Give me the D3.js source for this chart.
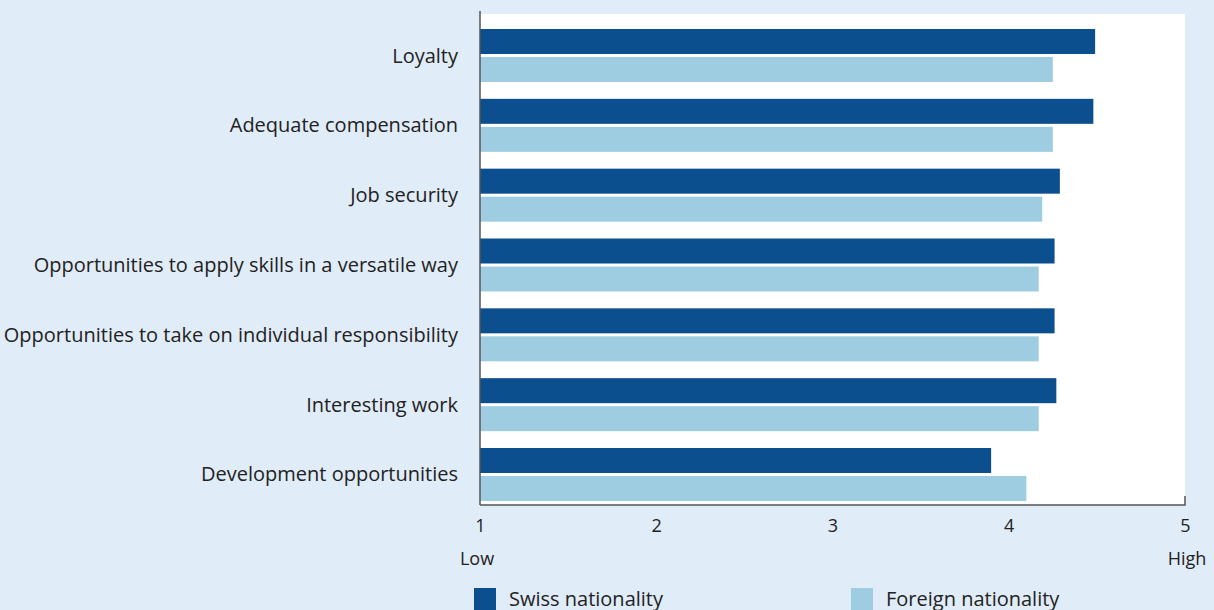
<!DOCTYPE html>
<html>
<head>
<meta charset="utf-8">
<script src="https://cdn.jsdelivr.net/npm/d3@7"></script>
<style>
  html, body { margin: 0; padding: 0; background: #e0ecf8; }
  svg { display: block; }
  text { font-family: "Open Sans", "Noto Sans", sans-serif; fill: #222; }
</style>
</head>
<body>
<svg id="chart" width="1214" height="610"></svg>
<script>
// Job characteristics, rated on a scale from 1 (low) to 5 (high)
const categories = [
  "Loyalty",
  "Adequate compensation",
  "Job security",
  "Opportunities to apply skills in a versatile way",
  "Opportunities to take on individual responsibility",
  "Interesting work",
  "Development opportunities"
];
const swissValues   = [4.49, 4.48, 4.29, 4.26, 4.26, 4.27, 3.90];
const foreignValues = [4.25, 4.25, 4.19, 4.17, 4.17, 4.17, 4.10];
const seriesNames = ["Swiss nationality", "Foreign nationality"];
const tickValues = [1, 2, 3, 4, 5];
const scaleEnds = ["Low", "High"];

const colors = ["#0c4f8f", "#9ecde2"];

const svg = d3.select("#chart");
const plot = { left: 480, right: 1185, top: 14, bottom: 505 };

const x = d3.scaleLinear().domain([1, 5]).range([plot.left, plot.right]);
const y = d3.scaleBand().domain(categories).range([29, 501]).paddingInner(0.241).paddingOuter(0);
const ySub = d3.scaleBand().domain(seriesNames).range([0, y.bandwidth()]).paddingInner(0.107);

// white plotting area
svg.append("rect")
  .attr("x", plot.left).attr("y", plot.top)
  .attr("width", plot.right - plot.left).attr("height", plot.bottom - plot.top)
  .attr("fill", "#ffffff");

const rows = categories.map((c, i) => ({ cat: c, vals: [swissValues[i], foreignValues[i]] }));

const groups = svg.append("g").selectAll("g")
  .data(rows).join("g")
  .attr("transform", d => `translate(0,${y(d.cat)})`);

groups.selectAll("rect")
  .data(d => d.vals.map((v, k) => ({ v, k })))
  .join("rect")
  .attr("x", x(1))
  .attr("y", d => ySub(seriesNames[d.k]))
  .attr("width", d => x(d.v) - x(1))
  .attr("height", ySub.bandwidth())
  .attr("fill", d => colors[d.k]);

// category labels
svg.append("g").selectAll("text")
  .data(categories).join("text")
  .attr("x", plot.left - 22)
  .attr("y", d => y(d) + y.bandwidth() / 2)
  .attr("dy", "0.35em")
  .attr("text-anchor", "end")
  .style("font-size", "20px")
  .text(d => d);

// axes
const axisColor = "#555";
svg.append("line")
  .attr("x1", plot.left).attr("x2", plot.left)
  .attr("y1", 11).attr("y2", plot.bottom)
  .attr("stroke", axisColor).attr("stroke-width", 1.5);

const xAxis = d3.axisBottom(x).tickValues(tickValues).tickSize(0).tickPadding(14).tickFormat(d3.format("d"));
const gx = svg.append("g").attr("transform", `translate(0,${plot.bottom})`).call(xAxis);
gx.select(".domain").remove();
gx.selectAll("text")
  .style("font-size", "18px")
  .style("font-family", "'Open Sans', 'Noto Sans', sans-serif")
  .attr("fill", "#222");

svg.append("path")
  .attr("d", `M${plot.left},${plot.bottom}H${plot.right}V${plot.bottom - 9}`)
  .attr("fill", "none").attr("stroke", axisColor).attr("stroke-width", 1.5);

// scale end descriptions
svg.append("text").attr("x", x(1) - 3).attr("y", 565).attr("text-anchor", "middle")
  .style("font-size", "18px").text(scaleEnds[0]);
svg.append("text").attr("x", x(5) + 2).attr("y", 565).attr("text-anchor", "middle")
  .style("font-size", "18px").text(scaleEnds[1]);

// legend
const legendX = [474, 851];
const legend = svg.append("g").selectAll("g")
  .data(seriesNames).join("g")
  .attr("transform", (d, i) => `translate(${legendX[i]},588)`);
legend.append("rect").attr("width", 22).attr("height", 24).attr("fill", (d, i) => colors[i]);
legend.append("text").attr("x", 35).attr("y", 18).style("font-size", "20px").text(d => d);
</script>
</body>
</html>
